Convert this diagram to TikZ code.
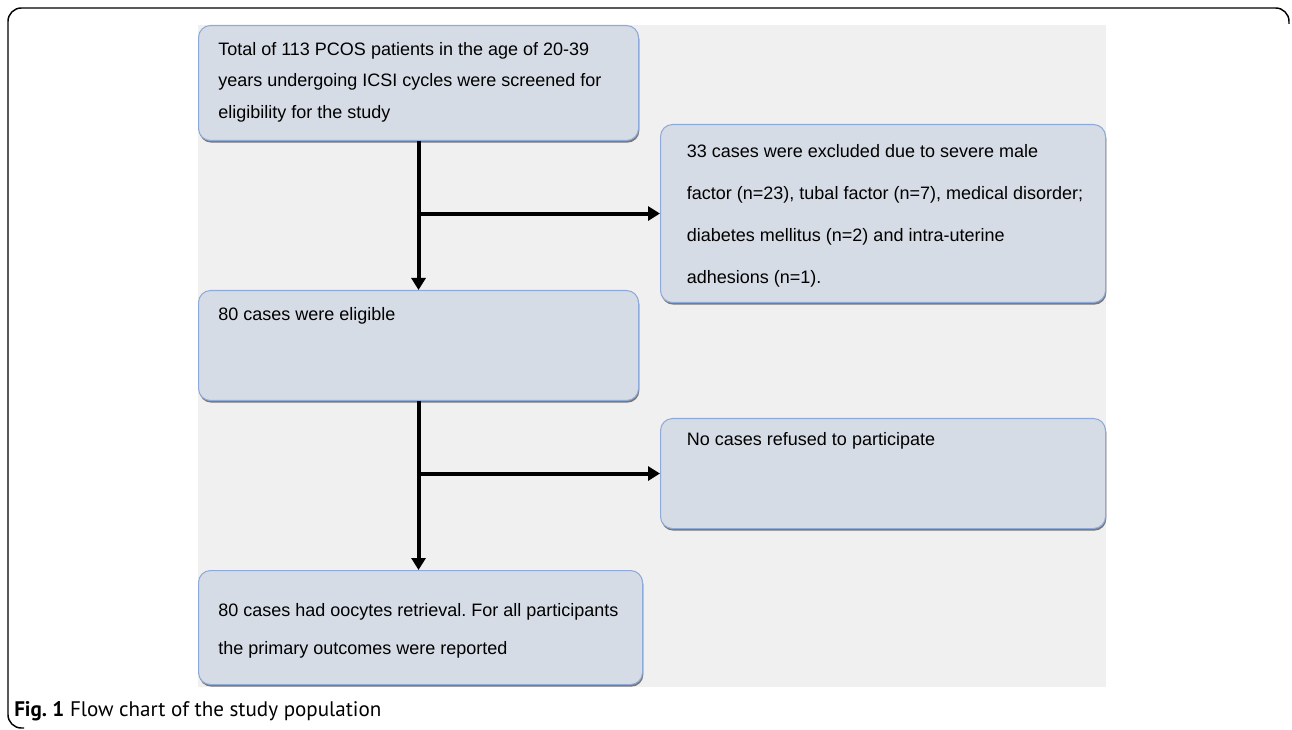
\documentclass[tikz,border=0pt]{standalone}
\usepackage{fontspec}
\setmainfont{Liberation Sans}
\newfontfamily\capfont{PT Sans}
\usetikzlibrary{positioning,arrows.meta,shadows}
\frenchspacing

\definecolor{boxfill}{HTML}{D6DCE5}
\definecolor{boxline}{HTML}{8EAADB}
\definecolor{chartbg}{HTML}{F0F0F0}

\begin{document}
\begin{tikzpicture}[x=0.75pt, y=-0.75pt,
        box/.style={draw=boxline, line width=0.8pt, fill=boxfill, rounded corners=9pt,
            anchor=north west, inner sep=0pt,
            drop shadow={shadow xshift=0.6pt, shadow yshift=-1.6pt, fill=black!65, opacity=0.8}},
        boxtext/.style={align=left, inner sep=0pt, anchor=north west},
        flow/.style={line width=3pt, -{Triangle[width=10.5pt,length=9pt]}},
        node distance=0pt]
    \useasboundingbox (0,0) rectangle (1292,730);

    % frame and chart area
    \draw[line width=1.1pt, rounded corners=10pt] (24,728) -- (8,728) -- (8,8) -- (1289,8) -- (1289,24);
    \fill[chartbg] (198,25) rectangle (1106,687);

    % boxes
    \node[box, minimum width=330pt, minimum height=86.25pt] (screened) at (198,25) {};
    \node[box, minimum width=333.75pt, minimum height=133.5pt] (excluded) at (660,124) {};
    \node[box, minimum width=330pt, minimum height=82.5pt] (eligible) at (198,290) {};
    \node[box, minimum width=333.75pt, minimum height=82.5pt] (refused) at (660,418) {};
    \node[box, minimum width=333pt, minimum height=85.5pt] (retrieval) at (198,570) {};

    % texts
    \node[boxtext, font=\fontsize{13.5}{23.5}\selectfont, below right=13pt and 15pt of screened.north west] (screenedtxt)
        {Total of 113 PCOS patients in the age of 20-39\\years undergoing ICSI cycles were screened for\\eligibility for the study};
    \node[boxtext, font=\fontsize{13.5}{31.5}\selectfont, below right=15pt and 20pt of excluded.north west] (excludedtxt)
        {33 cases were excluded due to severe male\\factor (n=23), tubal factor (n=7), medical disorder;\\diabetes mellitus (n=2) and intra-uterine\\adhesions (n=1).};
    \node[boxtext, font=\fontsize{13.5}{23}\selectfont, below right=13pt and 15pt of eligible.north west] (eligibletxt)
        {80 cases were eligible};
    \node[boxtext, font=\fontsize{13.5}{23}\selectfont, below right=11pt and 20pt of refused.north west] (refusedtxt)
        {No cases refused to participate};
    \node[boxtext, font=\fontsize{13.5}{28.5}\selectfont, below right=25pt and 15pt of retrieval.north west] (retrievaltxt)
        {80 cases had oocytes retrieval. For all participants\\the primary outcomes were reported};

    % arrows
    \draw[flow] (screened.south) -- (eligible.north);
    \draw[flow] (screened.south |- excluded.west) -- (excluded.west);
    \draw[flow] (eligible.south) -- (eligible.south |- retrieval.north);
    \draw[flow] (eligible.south |- refused.west) -- (refused.west);

    \node[anchor=west, inner sep=0pt, font=\capfont\fontsize{15.8}{19}\selectfont] (caption) at (14,711)
        {\textbf{Fig. 1} Flow chart of the study population};
\end{tikzpicture}
\end{document}
